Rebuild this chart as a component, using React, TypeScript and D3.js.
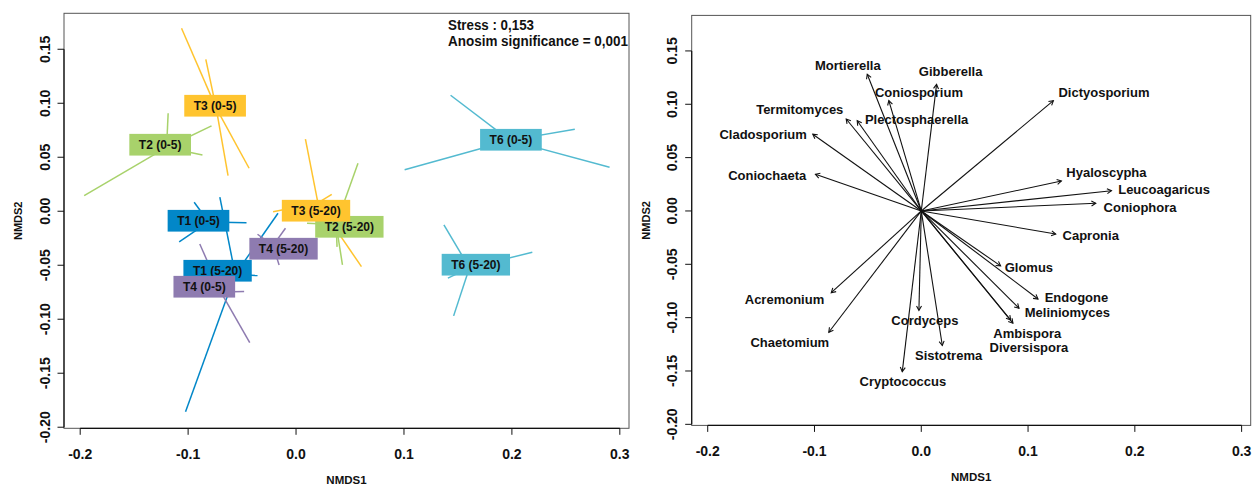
import React from 'react';
import * as d3 from 'd3';

const W = 1253;
const H = 485;

// Shared NMDS axis limits (both panels use the same ordination space)
const xLimits = [-0.215, 0.3085];
const yLimits = [-0.201, 0.1833];
const xTicks = [-0.2, -0.1, 0.0, 0.1, 0.2, 0.3];
const yTicks = [-0.2, -0.15, -0.1, -0.05, 0.0, 0.05, 0.1, 0.15];

// Site groups (treatment, depth in cm), in drawing order
const groupNames = ['T1 (0-5)', 'T2 (0-5)', 'T3 (0-5)', 'T2 (5-20)', 'T3 (5-20)', 'T1 (5-20)', 'T4 (0-5)', 'T4 (5-20)', 'T6 (0-5)', 'T6 (5-20)'];
const groupColors = ['#0287C8', '#A8D26B', '#FFC42F', '#A8D26B', '#FFC42F', '#0287C8', '#8E7BB0', '#8E7BB0', '#53BAD0', '#53BAD0'];
// Group centroid scores (label anchors)
const centroidX = [-0.0904, -0.1259, -0.075, 0.0494, 0.0185, -0.0727, -0.085, -0.0116, 0.1991, 0.1666];
const centroidY = [-0.0088, 0.0616, 0.0977, -0.0144, 0.0005, -0.0551, -0.0699, -0.0347, 0.0662, -0.0495];
// Sample scores per group (NMDS1, NMDS2)
const sampleX = [
  [-0.0944, -0.0459, -0.1083, -0.0753],
  [-0.1963, -0.1185, -0.0783, -0.0867],
  [-0.1061, -0.0836, -0.0435, -0.063],
  [0.0574, 0.043, 0.0102, 0.038],
  [0.0087, 0.0331, -0.0213, 0.0606],
  [-0.1024, -0.0167, -0.0357, -0.0706],
  [-0.0892, -0.0481, -0.0429, -0.0984],
  [-0.0357, -0.0098, -0.0157, -0.0244],
  [0.1432, 0.2583, 0.2905, 0.1006],
  [0.137, 0.2189, 0.146, 0.1407],
];
const sampleY = [
  [0.0083, -0.0106, -0.0284, -0.009],
  [0.0144, 0.0907, 0.079, 0.0521],
  [0.1694, 0.1407, 0.0398, 0.033],
  [0.0444, -0.0497, -0.0111, -0.033],
  [0.0667, 0.0157, -0.0004, -0.0513],
  [-0.1856, -0.0019, -0.0596, 0.013],
  [-0.0303, -0.0744, -0.1217, -0.0729],
  [-0.0213, -0.0157, -0.0497, -0.0405],
  [0.1074, 0.0759, 0.0407, 0.0385],
  [-0.0127, -0.038, -0.0969, -0.062],
];

const stressText = 'Stress : 0,153';
const anosimText = 'Anosim significance = 0,001';

// Fitted genus vectors (envfit) and their label anchors
const genera = ['Mortierella', 'Gibberella', 'Coniosporium', 'Termitomyces', 'Plectosphaerella', 'Cladosporium', 'Coniochaeta',
  'Dictyosporium', 'Hyaloscypha', 'Leucoagaricus', 'Coniophora', 'Capronia', 'Glomus', 'Endogone', 'Meliniomyces',
  'Ambispora', 'Diversispora', 'Cordyceps', 'Sistotrema', 'Cryptococcus', 'Acremonium', 'Chaetomium'];
const arrowX = [-0.0506, 0.0143, -0.0304, -0.0703, -0.06, -0.1016, -0.0991,
  0.1237, 0.1312, 0.1781, 0.1634, 0.1259, 0.0743, 0.1093, 0.0915,
  0.0858, 0.0837, -0.0022, 0.0197, -0.0178, -0.0843, -0.0866];
const arrowY = [0.1281, 0.1186, 0.1034, 0.0862, 0.0846, 0.0719, 0.0344,
  0.1034, 0.0281, 0.019, 0.0072, -0.0216, -0.0515, -0.0825, -0.0912,
  -0.1052, -0.1022, -0.0931, -0.1261, -0.1506, -0.0766, -0.1137];
const labelX = [-0.0688, 0.0275, -0.0022, -0.1138, -0.0044, -0.1481, -0.1443,
  0.1711, 0.1734, 0.2274, 0.2049, 0.1587, 0.1008, 0.1453, 0.1368,
  0.0993, 0.1008, 0.0034, 0.0256, -0.0172, -0.1281, -0.1231];
const labelY = [0.1368, 0.1306, 0.1112, 0.0953, 0.0853, 0.0719, 0.0337,
  0.1109, 0.0359, 0.0203, 0.0035, -0.0231, -0.0531, -0.0813, -0.0949,
  -0.1153, -0.1277, -0.1031, -0.1359, -0.16, -0.0828, -0.1231];

const FONT = "'Liberation Sans', Arial, Helvetica, sans-serif";

const fmt1 = (v: number) => d3.format('.1f')(v).replace('\u2212', '-');
const fmt2 = (v: number) => d3.format('.2f')(v).replace('\u2212', '-');

let measureCtx: CanvasRenderingContext2D | null = null;
function textWidth(s: string, font: string): number {
  if (!measureCtx) {
    const c = document.createElement('canvas');
    measureCtx = c.getContext('2d');
  }
  if (!measureCtx) return s.length * 7;
  measureCtx.font = font;
  return measureCtx.measureText(s).width;
}

type Frame = { x0: number; x1: number; y0: number; y1: number };

function Axes({ f, x, y }: { f: Frame; x: d3.ScaleLinear<number, number>; y: d3.ScaleLinear<number, number> }) {
  const tick = 6.5;
  const xMid = (f.x0 + f.x1) / 2;
  const yMid = (f.y0 + f.y1) / 2;
  return (
    <g fontFamily={FONT} fontWeight="bold" fill="#111">
      <rect x={f.x0} y={f.y0} width={f.x1 - f.x0} height={f.y1 - f.y0} fill="none" stroke="#555" strokeWidth={1} />
      {/* x axis */}
      <line x1={x(xTicks[0])} x2={x(xTicks[xTicks.length - 1])} y1={f.y1} y2={f.y1} stroke="#111" strokeWidth={1.2} />
      {xTicks.map((t) => (
        <g key={'xt' + t}>
          <line x1={x(t)} x2={x(t)} y1={f.y1} y2={f.y1 + tick} stroke="#111" strokeWidth={1} />
          <text x={x(t)} y={f.y1 + 25.5} fontSize={14} textAnchor="middle" dominantBaseline="central">
            {fmt1(t)}
          </text>
        </g>
      ))}
      {/* y axis */}
      <line x1={f.x0} x2={f.x0} y1={y(yTicks[0])} y2={y(yTicks[yTicks.length - 1])} stroke="#111" strokeWidth={1.2} />
      {yTicks.map((t) => (
        <g key={'yt' + t}>
          <line x1={f.x0} x2={f.x0 - tick} y1={y(t)} y2={y(t)} stroke="#111" strokeWidth={1} />
          <text
            transform={`translate(${f.x0 - 19.5},${y(t)}) rotate(-90)`}
            fontSize={14}
            textAnchor="middle"
            dominantBaseline="central"
          >
            {fmt2(t)}
          </text>
        </g>
      ))}
      <text x={xMid} y={f.y1 + 52} fontSize={11.5} textAnchor="middle" dominantBaseline="central">NMDS1</text>
      <text transform={`translate(${f.x0 - 46},${yMid}) rotate(-90)`} fontSize={11} textAnchor="middle" dominantBaseline="central">
        NMDS2
      </text>
    </g>
  );
}

function SitesPanel() {
  const f: Frame = { x0: 64, x1: 629, y0: 13.3, y1: 428.3 };
  const x = d3.scaleLinear().domain(xLimits).range([f.x0, f.x1]);
  const y = d3.scaleLinear().domain(yLimits).range([f.y1, f.y0]);
  const labelFont = `bold 12px ${FONT}`;

  const spiders = groupNames.map((_, i) => {
    const cx = d3.mean(sampleX[i]) as number;
    const cy = d3.mean(sampleY[i]) as number;
    return sampleX[i].map((sx, j) => ({ x1: x(cx), y1: y(cy), x2: x(sx), y2: y(sampleY[i][j]) }));
  });

  return (
    <g>
      <Axes f={f} x={x} y={y} />
      <g>
        {spiders.map((segs, i) =>
          segs.map((s, j) => (
            <line key={`sp${i}-${j}`} x1={s.x1} y1={s.y1} x2={s.x2} y2={s.y2} stroke={groupColors[i]} strokeWidth={1.5} />
          ))
        )}
      </g>
      <g fontFamily={FONT} fontWeight="bold">
        {groupNames.map((name, i) => {
          const w = textWidth(name, labelFont) + 19;
          const h = 21.7;
          const cx = x(centroidX[i]);
          const cy = y(centroidY[i]);
          return (
            <g key={'lab' + i}>
              <rect x={cx - w / 2} y={cy - h / 2} width={w} height={h} fill={groupColors[i]} />
              <text x={cx} y={cy + 0.5} fontSize={12} textAnchor="middle" dominantBaseline="central" fill="#111">
                {name}
              </text>
            </g>
          );
        })}
      </g>
      <g fontFamily={FONT} fontWeight="bold" fontSize={14} fill="#111">
        <text x={448} y={30} textLength={86} lengthAdjust="spacingAndGlyphs">{stressText}</text>
        <text x={448} y={45.7} textLength={180} lengthAdjust="spacingAndGlyphs">{anosimText}</text>
      </g>
    </g>
  );
}

function VectorsPanel() {
  const f: Frame = { x0: 691.7, x1: 1250.7, y0: 15.4, y1: 425.4 };
  const x = d3.scaleLinear().domain(xLimits).range([f.x0, f.x1]);
  const y = d3.scaleLinear().domain(yLimits).range([f.y1, f.y0]);
  const ox = x(0);
  const oy = y(0);
  const headLen = 5;
  const headAng = Math.PI / 6;

  return (
    <g>
      <Axes f={f} x={x} y={y} />
      <g stroke="#111" strokeWidth={1.1} fill="none">
        {genera.map((g, i) => {
          const tx = x(arrowX[i]);
          const ty = y(arrowY[i]);
          const a = Math.atan2(ty - oy, tx - ox);
          const h1x = tx - headLen * Math.cos(a - headAng);
          const h1y = ty - headLen * Math.sin(a - headAng);
          const h2x = tx - headLen * Math.cos(a + headAng);
          const h2y = ty - headLen * Math.sin(a + headAng);
          return (
            <g key={'arr' + g}>
              <line x1={ox} y1={oy} x2={tx} y2={ty} />
              <path d={`M${h1x},${h1y}L${tx},${ty}L${h2x},${h2y}`} />
            </g>
          );
        })}
      </g>
      <g fontFamily={FONT} fontWeight="bold" fontSize={13} fill="#111">
        {genera.map((g, i) => (
          <text key={'gl' + g} x={x(labelX[i])} y={y(labelY[i])} textAnchor="middle" dominantBaseline="central">
            {g}
          </text>
        ))}
      </g>
    </g>
  );
}

export default function App() {
  return (
    <svg
      width={W}
      height={H}
      viewBox={`0 0 ${W} ${H}`}
      style={{ position: 'absolute', left: 0, top: 0, background: '#fff' }}
    >
      <rect x={0} y={0} width={W} height={H} fill="#fff" />
      <SitesPanel />
      <VectorsPanel />
    </svg>
  );
}
